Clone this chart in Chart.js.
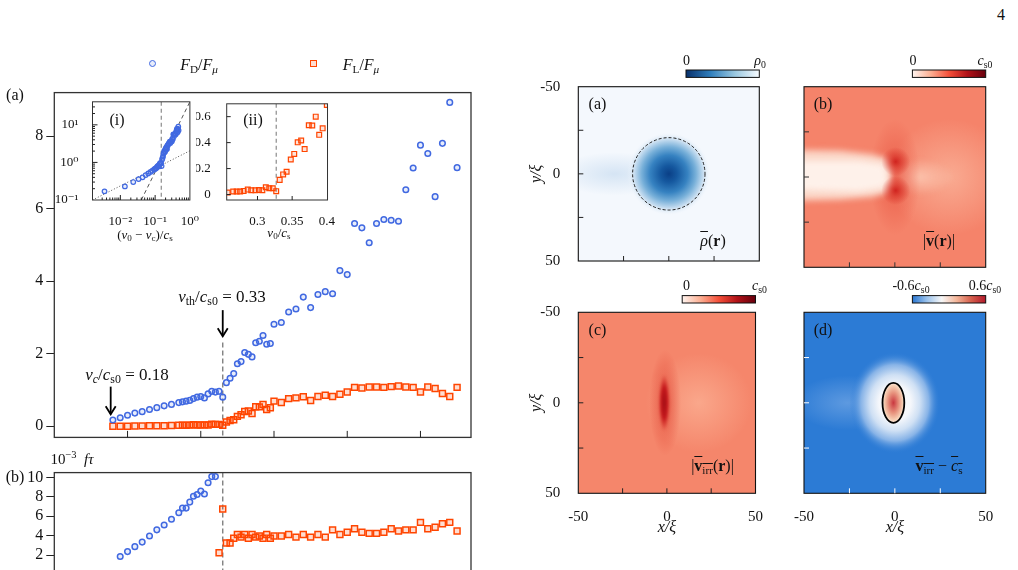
<!DOCTYPE html>
<html>
<head>
<meta charset="utf-8">
<script src="https://cdn.jsdelivr.net/npm/chart.js@4.4.1/dist/chart.umd.min.js"></script>
<style>
  html, body { margin: 0; padding: 0; background: #fff; overflow: hidden; width: 1018px; height: 570px; }
  canvas { position: absolute; }
  .t { position: absolute; font-family: 'Liberation Serif', 'DejaVu Serif', serif; color: #111; white-space: nowrap; line-height: 1; transform: translate(-50%, -50%); z-index: 5; }
  .t sub { font-size: 70%; vertical-align: -0.3em; line-height: 0; }
  .t sup { font-size: 70%; vertical-align: 0.5em; line-height: 0; }
  .ov { text-decoration: overline; }
  .mk { position: absolute; box-sizing: border-box; width: 7px; height: 7px; z-index: 5; }
</style>
</head>
<body>
<canvas id="cMain" width="480" height="370" style="left:0;top:80px"></canvas>
<canvas id="cFreq" width="480" height="130" style="left:0;top:460px"></canvas>
<canvas id="cIns1" width="155" height="160" style="left:50px;top:88px"></canvas>
<canvas id="cIns2" width="145" height="160" style="left:196px;top:88px"></canvas>
<canvas id="cHa" width="250" height="230" style="left:520px;top:50px"></canvas>
<canvas id="cHb" width="248" height="230" style="left:770px;top:50px"></canvas>
<canvas id="cHc" width="250" height="290" style="left:520px;top:280px"></canvas>
<canvas id="cHd" width="248" height="290" style="left:770px;top:280px"></canvas>
<script>
// ---- data ----
// main panel (a): v0/cs0 and forces
const vMain = [0.18, 0.19, 0.20, 0.21, 0.22, 0.23, 0.24, 0.25, 0.26, 0.27,
  0.275, 0.28, 0.285, 0.29, 0.295, 0.30, 0.305, 0.31, 0.315, 0.32, 0.325, 0.33, 0.335, 0.34, 0.345,
  0.35, 0.355, 0.36, 0.365, 0.37, 0.375, 0.38, 0.385, 0.39, 0.395, 0.40,
  0.41, 0.42, 0.43, 0.44, 0.45, 0.46, 0.47, 0.48, 0.49, 0.50, 0.51, 0.52, 0.53, 0.54, 0.55,
  0.56, 0.57, 0.58, 0.59, 0.60, 0.61, 0.62, 0.63, 0.64, 0.65];
const fDrag = [0.17, 0.23, 0.30, 0.36, 0.40, 0.46, 0.51, 0.56, 0.60, 0.65,
  0.67, 0.69, 0.71, 0.76, 0.80, 0.82, 0.78, 0.89, 0.96, 0.94, 0.96, 0.80, 1.20, 1.32, 1.45,
  1.72, 1.78, 2.03, 1.98, 1.91, 2.30, 2.34, 2.50, 2.26, 2.28, 2.81,
  2.86, 3.15, 3.23, 3.56, 3.27, 3.63, 3.71, 3.65, 4.29, 4.18, 5.59, 5.47, 5.06, 5.59, 5.70,
  5.68, 5.65, 6.52, 7.12, 7.75, 7.52, 6.33, 7.80, 8.93, 7.13];
const fLift = [0.00, 0.00, 0.00, 0.005, 0.008, 0.01, 0.01, 0.012, 0.016, 0.024,
  0.024, 0.024, 0.028, 0.038, 0.033, 0.033, 0.035, 0.033, 0.056, 0.049, 0.049, 0.026, 0.113, 0.155, 0.176,
  0.27, 0.313, 0.402, 0.416, 0.35, 0.534, 0.532, 0.60, 0.46, 0.51, 0.69,
  0.65, 0.76, 0.78, 0.81, 0.71, 0.82, 0.85, 0.82, 0.88, 0.94, 1.07, 1.05, 1.08, 1.08, 1.07,
  1.09, 1.11, 1.08, 1.07, 0.94, 1.08, 1.04, 0.90, 0.82, 1.07];
const yTicksMain = [0, 2, 4, 6, 8];

// panel (b): frequency f*tau (x 1e-3)
const vFreqD = [0.19, 0.20, 0.21, 0.22, 0.23, 0.24, 0.25, 0.26, 0.27, 0.275, 0.28, 0.285, 0.29, 0.295, 0.30, 0.305, 0.31, 0.315, 0.32];
const freqD = [1.85, 2.36, 2.87, 3.34, 3.97, 4.60, 5.10, 5.70, 6.36, 6.84, 6.84, 7.46, 8.06, 8.24, 8.60, 8.30, 9.46, 10.09, 10.09];
const vFreqL = [0.325, 0.33, 0.335, 0.34, 0.345, 0.35, 0.355, 0.36, 0.365, 0.37, 0.375, 0.38, 0.385, 0.39, 0.395, 0.40,
  0.41, 0.42, 0.43, 0.44, 0.45, 0.46, 0.47, 0.48, 0.49, 0.50, 0.51, 0.52, 0.53, 0.54, 0.55,
  0.56, 0.57, 0.58, 0.59, 0.60, 0.61, 0.62, 0.63, 0.64, 0.65];
const freqL = [2.24, 6.75, 3.25, 3.25, 3.73, 4.12, 3.85, 4.12, 3.73, 4.12, 3.85, 3.97, 3.73, 4.12, 3.73, 3.97,
  3.97, 4.12, 3.85, 4.12, 3.85, 4.12, 3.85, 4.60, 4.12, 4.36, 4.72, 4.36, 4.24, 4.24, 4.36,
  4.72, 4.48, 4.60, 4.60, 5.37, 4.72, 4.87, 5.22, 5.37, 4.48];
const yTicksFreq = [2, 4, 6, 8, 10];

// inset (i): (v0 - vc)/cs on log axes, drag values from fDrag
const dvInset = [0.0035, 0.0135, 0.0235, 0.0335, 0.0435, 0.0535, 0.0635, 0.0735, 0.0835, 0.0935,
  0.0985, 0.1035, 0.1085, 0.1135, 0.1185, 0.1235, 0.1285, 0.1335, 0.1385, 0.1435, 0.1485, 0.1535, 0.1585, 0.1635, 0.1685,
  0.1735, 0.1785, 0.1835, 0.1885, 0.1935, 0.1985, 0.2035, 0.2085, 0.2135, 0.2185, 0.2235,
  0.2335, 0.2435, 0.2535, 0.2635, 0.2735, 0.2835, 0.2935, 0.3035, 0.3135, 0.3235, 0.3335, 0.3435, 0.3535, 0.3635, 0.3735,
  0.3835, 0.3935, 0.4035, 0.4135, 0.4235, 0.4335, 0.4435, 0.4535, 0.4635, 0.4735];
const fitSlowX = [0.00158, 1.0], fitSlowY = [0.1, 2.04];
const fitFastX = [0.04, 1.0], fitFastY = [0.1, 41];

// inset (ii): v0/cs, lift values (fLift from v0/cs0 = 0.26 to 0.40)
const vInset2 = [0.257, 0.265, 0.27, 0.275, 0.28, 0.286, 0.291, 0.297, 0.302, 0.307, 0.312, 0.317, 0.322, 0.327,
  0.332, 0.337, 0.342, 0.348, 0.353, 0.358, 0.363, 0.368, 0.374, 0.379, 0.384, 0.389, 0.394, 0.40];
const fInset2 = fLift.slice(8, 36);

const vThreshold = 0.33, vCritical = 0.177, dvThreshold = 0.15, vThresholdInset = 0.327;

// ---- common style ----
Chart.defaults.font.family = "'Liberation Serif', 'DejaVu Serif', serif";
Chart.defaults.color = '#111';
const BLUE = '#4169e1', ORANGE = '#ff4500';
const pts = (xs, ys) => xs.map((x, i) => ({ x: x, y: ys[i] }));
const supMap = { '-': '\u207b', '0': '\u2070', '1': '\u00b9', '2': '\u00b2', '3': '\u00b3' };
const logLabel = v => {
  const e = Math.log10(v);
  if (Math.abs(e - Math.round(e)) > 1e-6) return '';
  return '10' + String(Math.round(e)).split('').map(ch => supMap[ch] || ch).join('');
};

// frame around the plot area
const frame = {
  id: 'frame',
  afterDraw(c, args, o) {
    if (!o.width) return;
    const { ctx, chartArea: r } = c;
    ctx.save();
    ctx.strokeStyle = o.color || '#222';
    ctx.lineWidth = o.width;
    ctx.strokeRect(r.left, r.top, r.width, r.height);
    ctx.restore();
  }
};

// tick marks pointing into the plot area
const inTicks = {
  id: 'inTicks',
  afterDraw(c, args, o) {
    const { ctx, chartArea: r } = c;
    ctx.save();
    ctx.strokeStyle = o.color || '#222';
    ctx.lineWidth = 1;
    ['x', 'y'].forEach(k => {
      const t = o[k];
      if (!t) return;
      const s = c.scales[k];
      s.ticks.forEach(tk => {
        const p = s.getPixelForValue(tk.value);
        const lo = k === 'x' ? r.left : r.top, hi = k === 'x' ? r.right : r.bottom;
        if (p < lo + 1.5 || p > hi - 1.5) return;
        let len = t.len;
        if (t.log) {
          const e = Math.floor(Math.log10(tk.value) + 1e-9);
          const m = tk.value / Math.pow(10, e);
          if (Math.abs(m - Math.round(m)) > 1e-6) return;
          if (Math.round(m) !== 1) len = t.minor;
        }
        ctx.beginPath();
        if (k === 'x') { ctx.moveTo(p, r.bottom); ctx.lineTo(p, r.bottom - len); }
        else { ctx.moveTo(r.left, p); ctx.lineTo(r.left + len, p); }
        ctx.stroke();
      });
    });
    ctx.restore();
  }
};

// dashed threshold lines and arrows
const marks = {
  id: 'marks',
  beforeDatasetsDraw(c, args, o) {
    const { ctx, chartArea: r } = c;
    (o.vlines || []).forEach(l => {
      const x = c.scales.x.getPixelForValue(l.x);
      ctx.save();
      ctx.beginPath(); ctx.rect(r.left, r.top, r.width, r.height); ctx.clip();
      ctx.strokeStyle = '#808080';
      ctx.lineWidth = l.w || 1.4;
      ctx.setLineDash(l.dash || [5, 3]);
      ctx.beginPath();
      ctx.moveTo(x, l.from == null ? r.top : c.scales.y.getPixelForValue(l.from));
      ctx.lineTo(x, r.bottom);
      ctx.stroke();
      ctx.restore();
    });
  },
  afterDatasetsDraw(c, args, o) {
    const { ctx } = c;
    (o.arrows || []).forEach(a => {
      const x = c.scales.x.getPixelForValue(a.x);
      const y1 = c.scales.y.getPixelForValue(a.from), y2 = c.scales.y.getPixelForValue(a.to);
      ctx.save();
      ctx.strokeStyle = '#000';
      ctx.lineWidth = 1.8;
      ctx.beginPath(); ctx.moveTo(x, y1); ctx.lineTo(x, y2); ctx.stroke();
      ctx.beginPath(); ctx.moveTo(x - 5, y2 - 8); ctx.lineTo(x, y2); ctx.lineTo(x + 5, y2 - 8); ctx.stroke();
      ctx.restore();
    });
  }
};
Chart.register(frame, inTicks, marks);

const base = { responsive: false, animation: false, devicePixelRatio: 1, events: [] };
const hidePlugins = { legend: { display: false }, tooltip: { enabled: false } };

// ---- main panel (a) ----
new Chart(document.getElementById('cMain'), {
  type: 'scatter',
  data: {
    datasets: [
      { label: 'F_D/F_mu', data: pts(vMain, fDrag), pointStyle: 'circle', pointRadius: 2.8, borderWidth: 1.5,
        borderColor: BLUE, backgroundColor: 'rgba(65,105,225,0.12)' },
      { label: 'F_L/F_mu', data: pts(vMain, fLift), pointStyle: 'rect', pointRadius: 4.2, borderWidth: 1.5,
        borderColor: ORANGE, backgroundColor: 'rgba(255,69,0,0.18)' }
    ]
  },
  options: {
    ...base,
    layout: { padding: { left: 0, right: 9, top: 7, bottom: 0 } },
    scales: {
      x: { type: 'linear', min: 0.1, max: 0.669,
        ticks: { display: false, stepSize: 0.1, includeBounds: false },
        grid: { display: false }, border: { display: false },
        afterFit(s) { s.height = 9.3; } },
      y: { type: 'linear', min: -0.31, max: 9.2,
        afterBuildTicks(s) { s.ticks = yTicksMain.map(v => ({ value: v })); },
        ticks: { autoSkip: false, padding: 3, font: { size: 16 }, color: '#111' },
        grid: { drawOnChartArea: false, drawTicks: true, tickLength: 8, color: '#222' },
        border: { display: false },
        afterFit(s) { s.width = 54.3; } }
    },
    plugins: {
      ...hidePlugins,
      frame: { width: 1.3, color: '#333' },
      inTicks: { x: { len: 6.5 } },
      marks: {
        vlines: [{ x: vThreshold, from: 2.31 }],
        arrows: [{ x: vThreshold, from: 3.2, to: 2.48 }, { x: vCritical, from: 1.09, to: 0.33 }]
      }
    }
  }
});

// ---- panel (b): frequency ----
new Chart(document.getElementById('cFreq'), {
  type: 'scatter',
  data: {
    datasets: [
      { data: pts(vFreqD, freqD), pointStyle: 'circle', pointRadius: 2.8, borderWidth: 1.5,
        borderColor: BLUE, backgroundColor: 'rgba(65,105,225,0.12)' },
      { data: pts(vFreqL, freqL), pointStyle: 'rect', pointRadius: 4.2, borderWidth: 1.5,
        borderColor: ORANGE, backgroundColor: 'rgba(255,69,0,0.18)' }
    ]
  },
  options: {
    ...base,
    layout: { padding: { left: 0, right: 9, top: 9, bottom: 0 } },
    scales: {
      x: { type: 'linear', min: 0.1, max: 0.669,
        ticks: { display: false, stepSize: 0.1, includeBounds: false },
        grid: { display: false }, border: { display: false },
        afterFit(s) { s.height = 0; } },
      y: { type: 'linear', min: -0.3, max: 10.5,
        afterBuildTicks(s) { s.ticks = yTicksFreq.map(v => ({ value: v })); },
        ticks: { autoSkip: false, padding: 3, font: { size: 16 }, color: '#111' },
        grid: { drawOnChartArea: false, drawTicks: true, tickLength: 8, color: '#222' },
        border: { display: false },
        afterFit(s) { s.width = 54.3; } }
    },
    plugins: {
      ...hidePlugins,
      frame: { width: 1.3, color: '#333' },
      marks: { vlines: [{ x: vThreshold }] }
    }
  }
});

// ---- inset (i): log-log ----
new Chart(document.getElementById('cIns1'), {
  type: 'scatter',
  data: {
    datasets: [
      { data: pts(dvInset, fDrag), pointStyle: 'circle', pointRadius: 2.3, borderWidth: 1.2,
        borderColor: BLUE, backgroundColor: 'rgba(65,105,225,0.12)' },
      { data: pts(fitSlowX, fitSlowY), showLine: true, pointRadius: 0, borderColor: '#555',
        borderWidth: 1, borderDash: [1, 2] },
      { data: pts(fitFastX, fitFastY), showLine: true, pointRadius: 0, borderColor: '#555',
        borderWidth: 1, borderDash: [4, 3] }
    ]
  },
  options: {
    ...base,
    layout: { padding: { left: 0, right: 7, top: 7, bottom: 0 } },
    scales: {
      x: { type: 'logarithmic', min: 0.00158, max: 1.0,
        ticks: { callback: logLabel, autoSkip: false, maxRotation: 0, padding: 6, font: { size: 13 }, color: '#111' },
        grid: { display: false }, border: { display: false },
        afterFit(s) { s.height = 48; } },
      y: { type: 'logarithmic', min: 0.1, max: 41,
        ticks: { callback: logLabel, autoSkip: false, padding: 6, font: { size: 13 }, color: '#111' },
        grid: { display: false }, border: { display: false },
        afterFit(s) { s.width = 42.5; } }
    },
    plugins: {
      ...hidePlugins,
      frame: { width: 1, color: '#333' },
      inTicks: { x: { len: 5, minor: 2.5, log: true }, y: { len: 5, minor: 2.5, log: true } },
      marks: { vlines: [{ x: dvThreshold, w: 1.1, dash: [4, 3] }] }
    }
  }
});

// ---- inset (ii): lift near threshold ----
new Chart(document.getElementById('cIns2'), {
  type: 'scatter',
  data: {
    datasets: [
      { data: pts(vInset2, fInset2), pointStyle: 'rect', pointRadius: 3.4, borderWidth: 1.2,
        borderColor: ORANGE, backgroundColor: 'rgba(255,69,0,0.15)' }
    ]
  },
  options: {
    ...base,
    layout: { padding: { left: 0, right: 7.7, top: 7, bottom: 0 } },
    scales: {
      x: { type: 'linear', min: 0.2556, max: 0.401,
        ticks: { stepSize: 0.05, includeBounds: false, autoSkip: false, maxRotation: 0, padding: 6,
          callback: v => String(+v.toFixed(2)), font: { size: 13 }, color: '#111' },
        grid: { display: false }, border: { display: false },
        afterFit(s) { s.height = 48; } },
      y: { type: 'linear', min: -0.042, max: 0.699,
        ticks: { stepSize: 0.2, includeBounds: false, padding: 8, callback: v => String(+v.toFixed(1)),
          font: { size: 13 }, color: '#111' },
        grid: { display: false }, border: { display: false },
        afterFit(s) { s.width = 30.7; } }
    },
    plugins: {
      ...hidePlugins,
      frame: { width: 1, color: '#333' },
      inTicks: { x: { len: 4 }, y: { len: 4 } },
      marks: { vlines: [{ x: vThresholdInset, w: 1.1, dash: [4, 3] }] }
    }
  }
});

// ---- heat maps ----
const P = (c, x, y) => [c.scales.x.getPixelForValue(x), c.scales.y.getPixelForValue(y)];
const U = c => Math.abs(c.scales.x.getPixelForValue(1) - c.scales.x.getPixelForValue(0));
function blob(ctx, c, x, y, rx, ry, stops, blur) {
  const [cx, cy] = P(c, x, y), u = U(c);
  ctx.save();
  if (blur) ctx.filter = 'blur(' + blur + 'px)';
  ctx.translate(cx, cy); ctx.scale(rx * u, ry * u);
  const g = ctx.createRadialGradient(0, 0, 0, 0, 0, 1);
  stops.forEach(s => g.addColorStop(s[0], s[1]));
  ctx.fillStyle = g;
  ctx.beginPath(); ctx.arc(0, 0, 1, 0, Math.PI * 2); ctx.fill();
  ctx.restore();
}
function poly(ctx, c, xy, color, blur) {
  ctx.save();
  if (blur) ctx.filter = 'blur(' + blur + 'px)';
  ctx.fillStyle = color;
  ctx.beginPath();
  xy.forEach((p, i) => { const [px, py] = P(c, p[0], p[1]); i ? ctx.lineTo(px, py) : ctx.moveTo(px, py); });
  ctx.closePath(); ctx.fill();
  ctx.restore();
}

const obstacleRadius = 20;
const wakeB = [[-56, -15], [-30, -14.5], [-12, -12.5], [-3, -10], [-1.5, -5], [-2.5, 0], [-1.5, 5], [-3, 8.5], [-12, 11], [-30, 12.5], [-56, 13]];
const wakeCoreB = [[-56, -9], [-20, -9], [-6, -7], [-4, 0], [-6, 6], [-20, 8], [-56, 7]];

const fields = {
  a(ctx, c, r) {
    ctx.fillStyle = '#f4f8fd'; ctx.fillRect(r.left, r.top, r.width, r.height);
    blob(ctx, c, -30, 0, 32, 12, [[0, 'rgba(200,220,240,0.7)'], [1, 'rgba(200,220,240,0)']]);
    blob(ctx, c, 0, 0, 23, 23, [[0, '#0a3f86'], [0.2, '#15589f'], [0.45, '#3682c1'], [0.65, '#78b0d9'],
      [0.82, '#c3dbef'], [1, 'rgba(244,248,253,0)']]);
    const [cx, cy] = P(c, 0, 0);
    ctx.save(); ctx.strokeStyle = '#222'; ctx.lineWidth = 1; ctx.setLineDash([3, 2]);
    ctx.beginPath(); ctx.arc(cx, cy, obstacleRadius * U(c), 0, Math.PI * 2); ctx.stroke(); ctx.restore();
  },
  b(ctx, c, r) {
    ctx.fillStyle = '#f5836a'; ctx.fillRect(r.left, r.top, r.width, r.height);
    blob(ctx, c, 30, 0, 34, 32, [[0, '#f9ab92'], [1, 'rgba(249,171,146,0)']]);
    blob(ctx, c, 14, 0, 18, 10, [[0, '#fbc1ab'], [1, 'rgba(251,193,171,0)']], 2);
    blob(ctx, c, 0, 0, 14, 32, [[0, 'rgba(226,62,46,0.55)'], [1, 'rgba(226,62,46,0)']]);
    poly(ctx, c, wakeB, '#fbd7c8', 3);
    poly(ctx, c, wakeCoreB, '#fef1ea', 3);
    blob(ctx, c, 0.5, -8.5, 8, 8, [[0, '#d0241f'], [0.4, 'rgba(214,45,36,0.6)'], [1, 'rgba(214,45,36,0)']]);
    blob(ctx, c, 0.5, 7.5, 8, 8, [[0, '#d0241f'], [0.4, 'rgba(214,45,36,0.6)'], [1, 'rgba(214,45,36,0)']]);
  },
  c(ctx, c, r) {
    ctx.fillStyle = '#f5866b'; ctx.fillRect(r.left, r.top, r.width, r.height);
    blob(ctx, c, 18, 0, 30, 28, [[0, '#faa78b'], [1, 'rgba(250,167,139,0)']]);
    blob(ctx, c, -1, 0, 9, 30, [[0, 'rgba(222,62,46,0.7)'], [1, 'rgba(222,62,46,0)']]);
    blob(ctx, c, -1.5, 0, 3.2, 16, [[0, '#a50f15'], [0.55, '#c4181c'], [1, 'rgba(210,40,36,0)']], 1);
  },
  d(ctx, c, r) {
    ctx.fillStyle = '#2c7bd5'; ctx.fillRect(r.left, r.top, r.width, r.height);
    blob(ctx, c, -26, 0, 30, 15, [[0, 'rgba(120,170,230,0.65)'], [1, 'rgba(120,170,230,0)']]);
    blob(ctx, c, 0, 0, 25, 28, [[0, '#ffffff'], [0.35, '#f5f7fb'], [0.55, '#cfe0f4'], [0.75, '#87b3e7'],
      [1, 'rgba(44,123,213,0)']]);
    const [cx, cy] = P(c, -0.8, 0), u = U(c);
    ctx.save();
    ctx.translate(cx, cy); ctx.scale(6 * u, 11 * u);
    const g = ctx.createRadialGradient(0, 0, 0, 0, 0, 1);
    g.addColorStop(0, '#c9373f'); g.addColorStop(0.5, '#e7927d'); g.addColorStop(0.85, '#f6ceb3'); g.addColorStop(1, '#fbe6d8');
    ctx.fillStyle = g; ctx.beginPath(); ctx.arc(0, 0, 1, 0, Math.PI * 2); ctx.fill();
    ctx.restore();
    ctx.save(); ctx.strokeStyle = '#000'; ctx.lineWidth = 1.8;
    ctx.beginPath(); ctx.ellipse(cx, cy, 6 * u, 11 * u, 0, 0, Math.PI * 2); ctx.stroke(); ctx.restore();
  }
};
const cbars = {
  a: ['#08306b', '#2f7ebc', '#9ac8e0', '#f7fbff'],
  b: ['#fff5f0', '#fcaf93', '#f44f39', '#b11218', '#67000d'],
  c: ['#fff5f0', '#fcaf93', '#f44f39', '#b11218', '#67000d'],
  d: ['#2a77d2', '#9cc3ec', '#f7f7f7', '#f4b79b', '#d6604d', '#b2182b']
};
const heat = {
  id: 'heat',
  beforeDatasetsDraw(c, args, o) {
    const { ctx, chartArea: r } = c;
    ctx.save(); ctx.beginPath(); ctx.rect(r.left, r.top, r.width, r.height); ctx.clip();
    fields[o.key](ctx, c, r);
    ctx.restore();
  },
  afterDraw(c, args, o) {
    const { ctx, chartArea: r } = c;
    const x0 = r.right - 73.3, y0 = r.top - 16.7, w = 73.3, h = 7.4;
    const g = ctx.createLinearGradient(x0, 0, x0 + w, 0);
    const cols = cbars[o.key];
    cols.forEach((col, i) => g.addColorStop(i / (cols.length - 1), col));
    ctx.save();
    ctx.fillStyle = g; ctx.fillRect(x0, y0, w, h);
    ctx.strokeStyle = '#111'; ctx.lineWidth = 1; ctx.strokeRect(x0, y0, w, h);
    ctx.restore();
  }
};

function heatChart(id, key, showX, showY, tickColor, hTop, padR) {
  const bottomPad = showX ? 28 : 0;
  const xh = showX ? 48.7 : 12.7;
  return new Chart(document.getElementById(id), {
    type: 'scatter',
    data: { datasets: [] },
    plugins: [heat],
    options: {
      ...base,
      layout: { padding: { left: 0, right: padR, top: hTop, bottom: bottomPad } },
      scales: {
        x: { type: 'linear', min: -50, max: 50,
          ticks: { display: showX, stepSize: 25, includeBounds: false, autoSkip: false, maxRotation: 0,
            callback: v => (v % 50 === 0 ? String(v) : ''), padding: 7, font: { size: 15 }, color: '#111' },
          title: { display: showX, text: 'x/\u03be', font: { size: 16, style: 'italic' }, color: '#111', padding: { top: 0, bottom: 4.4 } },
          grid: { display: false }, border: { display: false },
          afterFit(s) { s.height = xh; } },
        y: { type: 'linear', min: -50, max: 50, reverse: true,
          ticks: { display: showY, stepSize: 25, includeBounds: false, autoSkip: false,
            callback: v => (v % 50 === 0 ? String(v) : ''), padding: 10, font: { size: 15 }, color: '#111' },
          title: { display: showY, text: 'y/\u03be', font: { size: 16, style: 'italic' }, color: '#111', padding: { top: 7.4, bottom: 0 } },
          grid: { display: false }, border: { display: false },
          afterFit(s) { s.width = showY ? 58.3 : 34; } }
      },
      plugins: {
        ...hidePlugins,
        heat: { key: key },
        frame: { width: 1.1, color: '#111' },
        inTicks: { color: tickColor, x: { len: 5 }, y: { len: 5 } }
      }
    }
  });
}
heatChart('cHa', 'a', false, true, '#222', 36.7, 10.7);
heatChart('cHb', 'b', false, false, '#333', 36.7, 32.3);
heatChart('cHc', 'c', true, true, '#222', 32.3, 10.7);
heatChart('cHd', 'd', true, false, '#fff', 32.3, 32.3);

// ---- text labels ----
function label(html, cx, cy, size) {
  const d = document.createElement('div');
  d.className = 't';
  d.innerHTML = html;
  d.style.left = cx + 'px';
  d.style.top = cy + 'px';
  d.style.fontSize = size + 'px';
  document.body.appendChild(d);
}
function marker(cx, cy, round, color, fill) {
  const d = document.createElement('div');
  d.className = 'mk';
  d.style.left = (cx - 3.5) + 'px';
  d.style.top = (cy - 3.5) + 'px';
  d.style.border = '1.5px solid ' + color;
  d.style.background = fill;
  if (round) d.style.borderRadius = '50%';
  document.body.appendChild(d);
}
label('4', 1001, 15, 16);
marker(152.3, 63.3, true, BLUE, 'rgba(65,105,225,0.12)');
label('<i>F</i><sub>D</sub>/<i>F</i><sub><i>\u03bc</i></sub>', 199, 65, 16);
marker(313.7, 63.3, false, ORANGE, 'rgba(255,69,0,0.18)');
label('<i>F</i><sub>L</sub>/<i>F</i><sub><i>\u03bc</i></sub>', 361, 65, 16);
label('(a)', 15, 95, 16);
label('(b)', 15, 477, 16);
label('10<sup>\u22123</sup>&nbsp;&nbsp;<i>f\u03c4</i>', 72, 459, 15);
label('<i>v</i><sub>th</sub>/<i>c</i><sub>s0</sub> = 0.33', 222, 296, 17);
label('<i>v<sub>c</sub></i>/<i>c</i><sub>s0</sub> = 0.18', 127, 374, 17);
label('(i)', 117, 120, 16);
label('(ii)', 253, 120, 16);
label('(<i>v</i><sub>0</sub> \u2212 <i>v</i><sub>c</sub>)/<i>c</i><sub>s</sub>', 145, 234, 13);
label('<i>v</i><sub>0</sub>/<i>c</i><sub>s</sub>', 279, 232, 13);
label('(a)', 597.5, 104, 16);
label('(b)', 823, 104, 16);
label('(c)', 597.5, 330, 16);
label('(d)', 823, 330, 16);
label('<span class="ov"><i>\u03c1</i></span>(<b>r</b>)', 713, 241, 16);
label('|<span class="ov"><b>v</b></span>(<b>r</b>)|', 939, 241, 16);
label('|<span class="ov"><b>v</b><sub>irr</sub></span>(<b>r</b>)|', 712.5, 466, 16);
label('<span class="ov"><b>v</b><sub>irr</sub></span> \u2212 <span class="ov"><i>c</i><sub>s</sub></span>', 939, 466, 16);
label('0', 686.5, 61, 14);
label('<i>\u03c1</i><sub>0</sub>', 760, 61, 14);
label('0', 913, 61, 14);
label('<i>c</i><sub>s0</sub>', 985, 61, 14);
label('0', 686.5, 286, 14);
label('<i>c</i><sub>s0</sub>', 759.5, 286, 14);
label('-0.6<i>c</i><sub>s0</sub>', 911, 286, 14);
label('0.6<i>c</i><sub>s0</sub>', 985, 286, 14);
</script>
</body>
</html>
